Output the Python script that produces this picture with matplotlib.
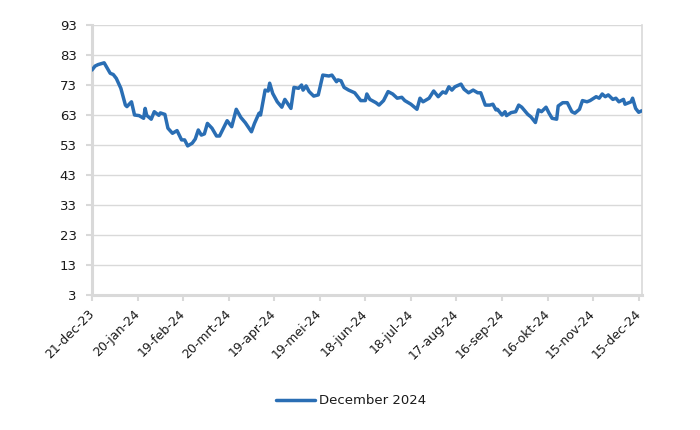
import matplotlib
matplotlib.use("Agg")
import matplotlib.pyplot as plt
import matplotlib.transforms as mtransforms
import pandas as pd

# ---- data ----
dates = [
    "2023-12-21", "2023-12-23", "2023-12-25", "2023-12-29", "2024-01-02", "2024-01-04",
    "2024-01-06", "2024-01-09", "2024-01-12", "2024-01-13", "2024-01-16", "2024-01-18",
    "2024-01-21", "2024-01-24", "2024-01-25", "2024-01-26", "2024-01-29", "2024-01-31",
    "2024-02-03", "2024-02-04", "2024-02-07", "2024-02-09", "2024-02-12", "2024-02-15",
    "2024-02-18", "2024-02-20", "2024-02-22", "2024-02-25", "2024-02-27", "2024-02-29",
    "2024-03-02", "2024-03-04", "2024-03-06", "2024-03-09", "2024-03-12", "2024-03-14",
    "2024-03-17", "2024-03-19", "2024-03-22", "2024-03-25", "2024-03-28", "2024-03-31",
    "2024-04-04", "2024-04-06", "2024-04-09", "2024-04-10", "2024-04-13", "2024-04-15",
    "2024-04-16", "2024-04-18", "2024-04-21", "2024-04-24", "2024-04-26", "2024-04-30",
    "2024-05-02", "2024-05-05", "2024-05-07", "2024-05-08", "2024-05-10", "2024-05-12",
    "2024-05-15", "2024-05-18", "2024-05-21", "2024-05-25", "2024-05-27", "2024-05-30",
    "2024-05-31", "2024-06-02", "2024-06-04", "2024-06-07", "2024-06-11", "2024-06-15",
    "2024-06-18", "2024-06-19", "2024-06-21", "2024-06-25", "2024-06-27", "2024-06-30",
    "2024-07-03", "2024-07-06", "2024-07-09", "2024-07-12", "2024-07-14", "2024-07-18",
    "2024-07-22", "2024-07-24", "2024-07-26", "2024-07-30", "2024-08-02", "2024-08-05",
    "2024-08-08", "2024-08-10", "2024-08-12", "2024-08-14", "2024-08-16", "2024-08-20",
    "2024-08-22", "2024-08-25", "2024-08-28", "2024-08-31", "2024-09-02", "2024-09-05",
    "2024-09-08", "2024-09-10", "2024-09-12", "2024-09-13", "2024-09-16", "2024-09-18",
    "2024-09-19", "2024-09-22", "2024-09-25", "2024-09-27", "2024-09-29", "2024-10-03",
    "2024-10-05", "2024-10-08", "2024-10-10", "2024-10-12", "2024-10-15", "2024-10-17",
    "2024-10-19", "2024-10-22", "2024-10-23", "2024-10-26", "2024-10-29", "2024-11-01",
    "2024-11-03", "2024-11-06", "2024-11-08", "2024-11-11", "2024-11-13", "2024-11-17",
    "2024-11-19", "2024-11-21", "2024-11-23", "2024-11-25", "2024-11-28", "2024-11-30",
    "2024-12-02", "2024-12-05", "2024-12-06", "2024-12-10", "2024-12-11", "2024-12-13",
    "2024-12-15", "2024-12-17",
]
values = [
    78.0, 79.3, 79.8, 80.4, 76.9, 76.5,
    75.2, 71.9, 66.3, 65.8, 67.4, 63.0,
    62.8, 61.9, 65.2, 62.9, 61.6, 64.1,
    62.9, 63.7, 63.2, 58.6, 56.9, 57.8,
    54.7, 54.7, 52.7, 53.6, 55.0, 58.0,
    56.3, 56.7, 60.2, 58.6, 56.0, 56.0,
    59.1, 61.1, 59.1, 64.9, 62.2, 60.4,
    57.4, 60.2, 63.6, 63.0, 71.3, 71.0,
    73.6, 70.2, 67.4, 65.6, 68.2, 65.2,
    72.2, 71.9, 73.0, 71.3, 72.7, 70.8,
    69.3, 69.7, 76.3, 76.0, 76.3, 74.1,
    74.7, 74.4, 72.2, 71.3, 70.4, 67.8,
    67.8, 70.0, 68.2, 67.1, 66.3, 67.8,
    70.8, 70.0, 68.6, 68.9, 67.8, 66.6,
    64.9, 68.6, 67.4, 68.6, 71.0, 69.1,
    70.7, 70.3, 72.4, 71.3, 72.4, 73.3,
    71.6, 70.4, 71.3, 70.4, 70.4, 66.3,
    66.3, 66.6, 64.7, 64.9, 63.0, 64.1,
    62.8, 63.8, 64.1, 66.3, 65.6, 63.2,
    62.4, 60.5, 64.7, 64.1, 65.6, 63.6,
    61.9, 61.6, 66.0, 67.1, 67.1, 64.1,
    63.6, 64.9, 67.8, 67.4, 67.8, 69.1,
    68.6, 70.0, 69.1, 69.7, 68.2, 68.6,
    67.4, 68.2, 66.6, 67.4, 68.6, 65.2,
    63.9, 64.4,
]
series_name = "December 2024"
tick_dates = ["2023-12-21", "2024-01-20", "2024-02-19", "2024-03-20", "2024-04-19",
              "2024-05-19", "2024-06-18", "2024-07-18", "2024-08-17", "2024-09-16",
              "2024-10-16", "2024-11-15", "2024-12-15"]
tick_labels = ["21-dec-23", "20-jan-24", "19-feb-24", "20-mrt-24", "19-apr-24",
               "19-mei-24", "18-jun-24", "18-jul-24", "17-aug-24", "16-sep-24",
               "16-okt-24", "15-nov-24", "15-dec-24"]
y_ticks = [3, 13, 23, 33, 43, 53, 63, 73, 83, 93]

# ---- plot ----
plt.rcParams['font.family'] = ['DejaVu Sans']
fig = plt.figure(figsize=(7.0, 4.3), dpi=100)
ax = fig.add_axes([92 / 700, 1 - 295 / 430, (641.7 - 92) / 700, 270 / 430])

x = pd.to_datetime(dates)
ax.plot(x, values, color="#2A6EB4", lw=2.5, solid_joinstyle="round",
        solid_capstyle="round", label=series_name, zorder=3)

ax.set_ylim(3, 93)
ax.set_yticks(y_ticks)
ax.set_xlim(pd.Timestamp(dates[0]), pd.Timestamp(dates[-1]))
ax.set_xticks(pd.to_datetime(tick_dates))
ax.set_xticklabels(tick_labels, rotation=45, ha="right", va="center",
                   rotation_mode="anchor", fontsize=9)
shift = mtransforms.ScaledTranslation(0.07, -0.01, fig.dpi_scale_trans)
for lab in ax.get_xticklabels():
    lab.set_transform(lab.get_transform() + shift)

grid_c = "#D9D9D9"
ax.yaxis.grid(True, color=grid_c, lw=1.0, zorder=0)
ax.set_axisbelow(True)
for s in ["left", "bottom"]:
    ax.spines[s].set_color(grid_c)
    ax.spines[s].set_linewidth(2.2)
ax.spines["right"].set_color(grid_c)
ax.spines["right"].set_linewidth(1.2)
ax.spines["top"].set_visible(False)
ax.tick_params(axis="both", colors=grid_c, labelcolor="#1a1a1a",
               width=1.5, length=4)
ax.tick_params(axis="y", pad=7, labelsize=9.5)
ax.tick_params(axis="x", pad=8)

leg = fig.legend(loc="center", bbox_to_anchor=(351 / 700, 1 - 401 / 430),
                 frameon=False, fontsize=9.5, handlelength=2.9,
                 handletextpad=0.3)
for t in leg.get_texts():
    t.set_color("#1a1a1a")

fig.savefig("out.png", dpi=100)
